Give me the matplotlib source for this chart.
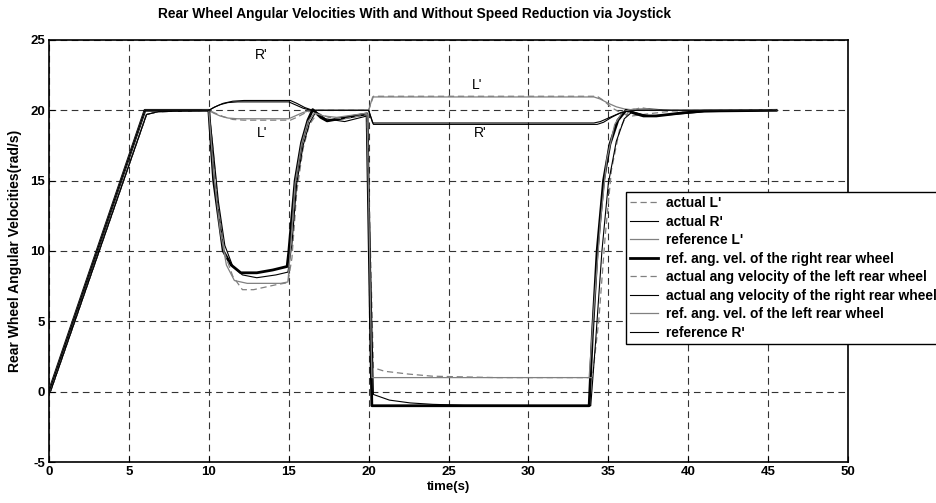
import matplotlib
matplotlib.use('Agg')
import matplotlib.pyplot as plt

plt.rcParams['font.family'] = ['Liberation Sans', 'DejaVu Sans']
plt.rcParams['font.weight'] = 'bold'
plt.rcParams['axes.unicode_minus'] = False

# --- without speed reduction (R' / L') ---
t_ref_R = [0, 6, 10, 10.3, 10.7, 11.2, 11.8, 15.0, 15.4, 15.9, 16.4, 20.0, 20.25, 34.1, 34.5, 35.0, 35.5, 36.0, 36.8, 45.5]
v_ref_R = [0, 20, 20, 20.2, 20.4, 20.55, 20.6, 20.6, 20.4, 20.15, 20.0, 20.0, 19.1, 19.1, 19.2, 19.45, 19.7, 19.9, 20.0, 20.0]
t_ref_L = t_ref_R
v_ref_L = [0, 20, 20, 19.8, 19.6, 19.45, 19.4, 19.4, 19.6, 19.85, 20.0, 20.0, 20.95, 20.95, 20.8, 20.5, 20.25, 20.1, 20.0, 20.0]

t_act_R = [0, 0.1, 6.1, 6.8, 10, 10.4, 10.9, 11.5, 12.2, 15.1, 15.5, 16.0, 16.5, 20.0, 20.3, 34.3, 34.7, 35.2, 35.8, 36.5, 37.5, 39, 45.5]
v_act_R = [0, 0.05, 19.7, 19.9, 20, 20.25, 20.5, 20.65, 20.7, 20.7, 20.5, 20.2, 20.0, 20.0, 19.0, 19.0, 19.15, 19.5, 19.85, 20.05, 20.1, 20.0, 20.0]
t_act_L = t_act_R
v_act_L = [0, 0.05, 19.7, 19.9, 20, 19.8, 19.55, 19.35, 19.3, 19.3, 19.5, 19.8, 20.0, 20.0, 21.0, 21.0, 20.7, 20.2, 19.8, 19.6, 19.75, 19.95, 20.0]

# --- with speed reduction via joystick ---
t_ref_right = [0, 6, 10, 10.3, 10.9, 11.4, 12.0, 13.0, 14.0, 14.9, 15.0, 15.4, 15.8, 16.2, 16.5, 17.0, 17.4,
               19.9, 20.2, 33.8, 34.0, 34.3, 34.7, 35.1, 35.6, 36.1, 36.6, 37.2, 38.0, 39.5, 41.0, 45.5]
v_ref_right = [0, 20, 20, 15.0, 10.0, 9.0, 8.45, 8.45, 8.65, 8.9, 9.9, 15.0, 17.7, 19.3, 20.05, 19.5, 19.25,
               19.75, -1.0, -1.0, 4.0, 10.0, 15.0, 17.6, 19.3, 20.0, 19.8, 19.6, 19.6, 19.8, 19.95, 20.0]

t_ref_left = [0, 6, 10, 10.3, 10.7, 11.1, 11.6, 12.4, 14.5, 14.95, 15.1, 15.4, 15.8, 16.2, 16.6, 17.2, 18.0,
              19.9, 20.2, 33.8, 34.1, 34.5, 34.9, 35.4, 35.9, 36.6, 38.0, 45.5]
v_ref_left = [0, 20, 20, 15.5, 11.5, 9.0, 7.9, 7.7, 7.7, 7.8, 10.0, 14.8, 17.6, 19.2, 19.8, 19.6, 19.5,
              19.8, 1.0, 1.0, 6.0, 12.0, 16.5, 19.0, 19.9, 20.1, 20.0, 20.0]

t_act_left = [0, 0.1, 6.1, 6.8, 10, 10.2, 10.6, 11.0, 11.5, 12.1, 12.8, 14.2, 14.95, 15.2, 15.5, 15.9, 16.3, 16.8,
              17.5, 18.5, 19.9, 20.3, 21, 22.5, 24, 26, 28, 34.0, 34.4, 34.8, 35.2, 35.7, 36.2, 37, 38, 40, 45.5]
v_act_left = [0, 0.05, 19.7, 19.9, 20, 18, 13, 9.8, 8.2, 7.25, 7.25, 7.6, 7.75, 9.5, 14.2, 17.3, 19.0, 19.8,
              19.5, 19.4, 19.7, 1.7, 1.45, 1.25, 1.1, 1.05, 1.0, 1.0, 5.0, 11.0, 15.8, 18.6, 19.8, 20.2, 20.0, 20.0, 20.0]

t_act_right = [0, 0.1, 6.1, 6.8, 10, 10.2, 10.6, 11.0, 11.5, 12.1, 13, 14.2, 14.95, 15.2, 15.5, 15.9, 16.3, 16.7,
               17.3, 18.5, 19.9, 20.3, 21.3, 22.6, 24, 26, 33.9, 34.2, 34.6, 35.0, 35.5, 36.0, 36.5, 37.5, 39, 41, 45.5]
v_act_right = [0, 0.05, 19.7, 19.9, 20, 18, 13.5, 10.4, 8.9, 8.3, 8.1, 8.3, 8.5, 10.5, 14.8, 17.5, 19.1, 19.9,
               19.4, 19.2, 19.6, -0.2, -0.6, -0.8, -0.9, -0.97, -1.0, 3.5, 10.0, 14.8, 17.8, 19.4, 19.9, 19.6, 19.7, 19.9, 20.0]

fig = plt.figure(figsize=(9.36, 5.03), dpi=100)
ax = fig.add_axes([0.0524, 0.0815, 0.8536, 0.839])

gray = '#808080'
dash = (0, (5, 3))
ax.plot(t_act_L, v_act_L, color=gray, lw=0.9, linestyle=dash, label="actual L'")
ax.plot(t_act_R, v_act_R, color='black', lw=0.8, label="actual R'")
ax.plot(t_ref_L, v_ref_L, color=gray, lw=0.9, label="reference L'")
ax.plot(t_ref_right, v_ref_right, color='black', lw=2.0, label='ref. ang. vel. of the right rear wheel')
ax.plot(t_act_left, v_act_left, color=gray, lw=0.9, linestyle=dash, label='actual ang velocity of the left rear wheel')
ax.plot(t_act_right, v_act_right, color='black', lw=0.8, label='actual ang velocity of the right rear wheel')
ax.plot(t_ref_left, v_ref_left, color=gray, lw=0.9, label='ref. ang. vel. of the left rear wheel')
ax.plot(t_ref_R, v_ref_R, color='black', lw=0.8, label="reference R'")

ax.text(13.3, 23.9, "R'", fontsize=10, fontweight='normal', ha='center', va='center')
ax.text(13.3, 18.4, "L'", fontsize=10, fontweight='normal', ha='center', va='center')
ax.text(26.8, 21.8, "L'", fontsize=10, fontweight='normal', ha='center', va='center')
ax.text(27.0, 18.4, "R'", fontsize=10, fontweight='normal', ha='center', va='center')

ax.set_xlim(0, 50)
ax.set_ylim(-5, 25)
ax.set_xticks(range(0, 51, 5))
ax.set_yticks(range(-5, 26, 5))
ax.tick_params(direction='in', labelsize=9.5, length=4, pad=3)
ax.grid(True, color='#333333', linestyle=(0, (6, 4)), linewidth=0.8)
for s in ax.spines.values():
    s.set_linewidth(1.2)

fig.text(0.443, 0.972, 'Rear Wheel Angular Velocities With and Without Speed Reduction via Joystick',
         fontsize=9.9, fontweight='bold', ha='center', va='center')
ax.set_xlabel('time(s)', fontsize=9.5, fontweight='bold', labelpad=2)
ax.set_ylabel('Rear Wheel Angular Velocities(rad/s)', fontsize=10, fontweight='bold', labelpad=6)

leg = ax.legend(loc='upper left', bbox_to_anchor=(0.722, 0.640), borderaxespad=0,
                fancybox=False, edgecolor='black', framealpha=1, fontsize=9.9,
                handlelength=2.0, labelspacing=0.33, borderpad=0.3, handletextpad=0.6)
leg.get_frame().set_linewidth(1.0)
leg.set_clip_on(False)

fig.savefig('out.png', dpi=100)
